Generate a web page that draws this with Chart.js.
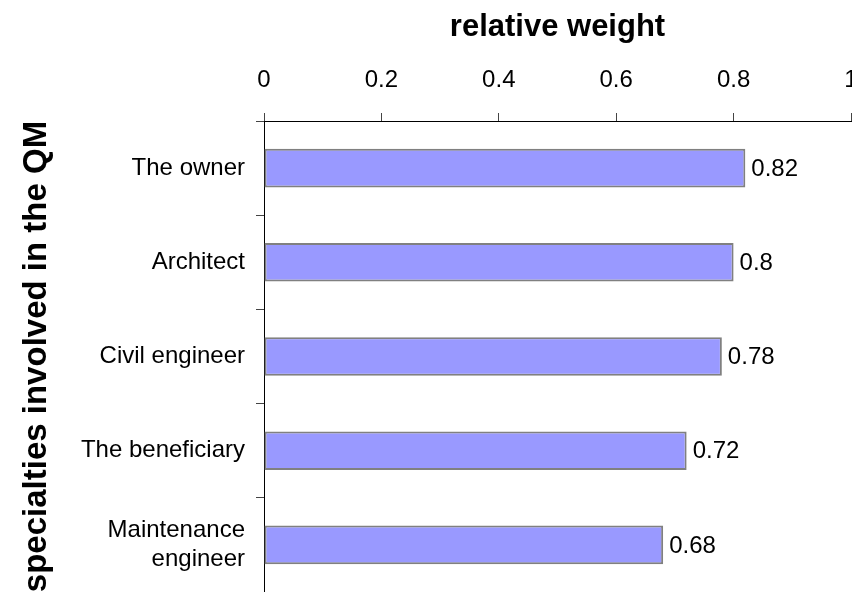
<!DOCTYPE html>
<html>
<head>
<meta charset="utf-8">
<script src="https://cdn.jsdelivr.net/npm/chart.js@4/dist/chart.umd.min.js"></script>
<style>
  html, body { margin: 0; padding: 0; background: #fff; }
  #wrap { width: 852px; height: 592px; }
</style>
</head>
<body>
<div id="wrap"><canvas id="c" width="852" height="592"></canvas></div>
<script>
// Specialties and their relative weight in quality management
const categories = ['The owner', 'Architect', 'Civil engineer', 'The beneficiary', ['Maintenance', 'engineer']];
const weights = [0.82, 0.8, 0.78, 0.72, 0.68];
const xTicks = [0, 0.2, 0.4, 0.6, 0.8, 1];

const FONT = "'Liberation Sans', Arial, sans-serif";

// Writes each bar's value just past its end
const valueLabels = {
  id: 'valueLabels',
  afterDatasetsDraw(chart) {
    const ctx = chart.ctx;
    const meta = chart.getDatasetMeta(0);
    ctx.save();
    ctx.font = '24px ' + FONT;
    ctx.fillStyle = '#000';
    ctx.textAlign = 'left';
    ctx.textBaseline = 'middle';
    meta.data.forEach((bar, i) => {
      ctx.fillText(String(weights[i]), bar.x + 6, bar.y + 1);
    });
    ctx.restore();
  }
};

new Chart(document.getElementById('c'), {
  type: 'bar',
  data: {
    labels: categories,
    datasets: [{
      data: weights,
      backgroundColor: '#9999FF',
      borderColor: '#808080',
      borderWidth: 2,
      borderSkipped: false,
      barPercentage: 0.41,
      categoryPercentage: 1
    }]
  },
  options: {
    indexAxis: 'y',
    responsive: false,
    animation: false,
    devicePixelRatio: 1,
    layout: { padding: { left: 0, right: 1, top: 0, bottom: 0 } },
    plugins: {
      legend: { display: false },
      tooltip: { enabled: false }
    },
    scales: {
      x: {
        position: 'top',
        min: 0,
        max: 1,
        afterBuildTicks(scale) { scale.ticks = xTicks.map(v => ({ value: v })); },
        afterFit(scale) {
          scale.height = 121;
          scale.paddingLeft = 0;
          scale.paddingRight = 0;
        },
        ticks: {
          font: { family: FONT, size: 24 },
          color: '#000',
          padding: 18,
          callback: v => String(v)
        },
        grid: {
          drawOnChartArea: false,
          drawTicks: true,
          tickLength: 8,
          color: '#444'
        },
        border: { display: true, color: '#000', width: 1 },
        title: {
          display: true,
          text: 'relative weight',
          color: '#000',
          font: { family: FONT, size: 31, weight: 'bold' },
          padding: { top: 9, bottom: 0 }
        }
      },
      y: {
        afterFit(scale) {
          scale.width = 264;
          scale.paddingTop = 0;
          scale.paddingBottom = 0;
        },
        ticks: {
          font: { family: FONT, size: 24 },
          color: '#000',
          padding: 11
        },
        grid: {
          offset: true,
          drawOnChartArea: false,
          drawTicks: true,
          tickLength: 8,
          color: '#444'
        },
        border: { display: true, color: '#000', width: 1 },
        title: {
          display: true,
          text: 'specialties involved in the QM',
          color: '#000',
          font: { family: FONT, size: 33, weight: 'bold' },
          padding: { top: 17, bottom: 0 }
        }
      }
    }
  },
  plugins: [valueLabels]
});
</script>
</body>
</html>
